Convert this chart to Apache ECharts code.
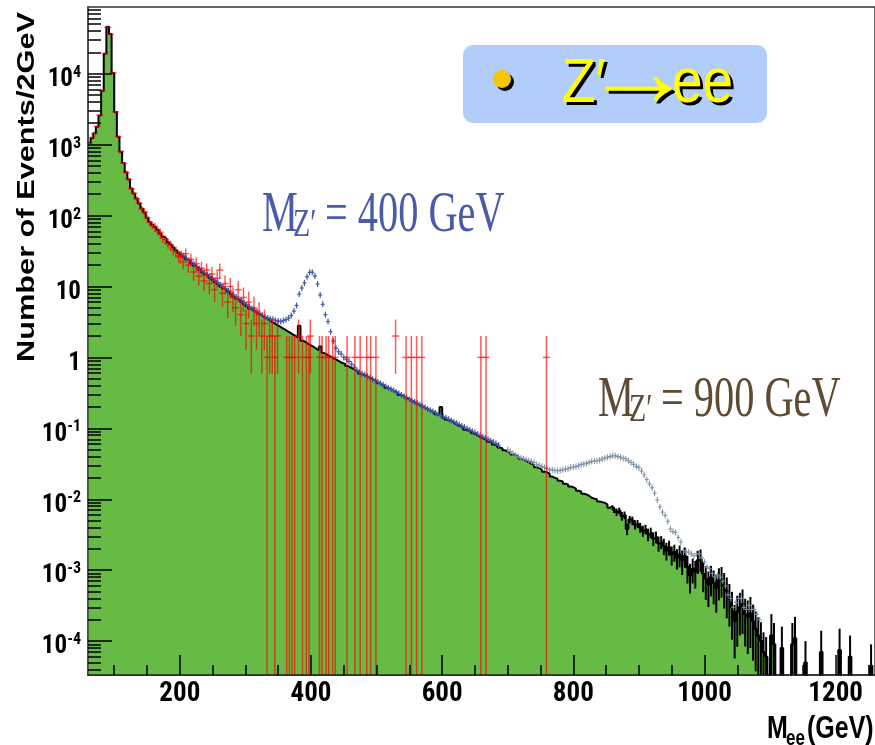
<!DOCTYPE html>
<html><head><meta charset="utf-8">
<script src="https://cdn.jsdelivr.net/npm/echarts@6/dist/echarts.min.js"></script>
<style>html,body{margin:0;padding:0;background:#fff}#c{width:875px;height:745px}</style>
</head><body><div id="c"></div>
<script>
// ---------------- data ----------------
const binStart = 60, binWidth = 4;           // GeV, background histogram bins (values are events / 2 GeV)
const bgValues = [
1050,1230,1450,1780,2570,5750,19000,45700,36300,10200,
2880,1290,794,550,407,324,240,204,174,148,
126,110,93,81,74,69,63,56,50,47,
42,39,35.5,32.4,29.5,27.5,25.7,24.0,22.9,20.9,
19.5,18.6,17.0,15.8,14.8,14.1,13.2,12.3,11.5,10.7,
10.0,9.33,8.91,8.32,7.76,7.24,6.76,6.46,6.03,5.62,
5.25,4.90,4.62,4.42,4.17,3.98,3.76,3.59,3.39,3.20,
3.05,2.88,2.75,2.60,2.48,2.34,2.24,2.11,2.02,1.91,
2.8,1.72,1.64,1.55,1.48,1.41,1.33,1.26,1.42,1.15,
1.10,1.05,1.00,0.955,0.912,0.871,0.832,0.81,0.759,0.724,
0.692,0.661,0.631,0.59,0.575,0.550,0.525,0.501,0.479,0.47,
0.437,0.417,0.398,0.372,0.363,0.347,0.331,0.316,0.296,0.288,
0.275,0.263,0.251,0.240,0.229,0.219,0.209,0.200,0.191,0.182,
0.174,0.170,0.158,0.155,0.200,0.141,0.132,0.129,0.123,0.117,
0.110,0.107,0.102,0.0955,0.0933,0.0912,0.0851,0.0813,0.0776,0.0741,
0.0708,0.0692,0.0646,0.0631,0.0589,0.0575,0.0537,0.0525,0.0490,0.0468,
0.0457,0.0427,0.0417,0.0398,0.0372,0.0363,0.0347,0.0331,0.0316,0.0302,
0.0282,0.0275,0.0263,0.0245,0.0240,0.0229,0.0209,0.0200,0.0195,0.0182,
0.0178,0.0166,0.0162,0.0151,0.0148,0.0141,0.0132,0.0129,0.0120,0.0117,
0.0112,0.0105,0.0102,0.0100,0.00933,0.00912,0.0089,0.0085,0.0076,0.0081,
0.0071,0.0066,0.0069,0.0058,0.0060,0.0038,0.0052,0.0050,0.0044,0.0045,
0.0040,0.0036,0.0038,0.0032,0.0034,0.0028,0.00295,0.0024,0.0025,0.0022,
0.0019,0.0021,0.00166,0.0018,0.0015,0.00166,0.00138,0.00158,0.00112,0.00085,
0.00105,0.00095,0.00138,0.00145,0.00089,0.00076,0.00063,0.00079,0.00066,0.00056,
0.00072,0.00076,0.00060,0.00050,0.00040,0.00030,0.00019,0.00026,0.00030,0.00033,
0.00024,0.00022,0.00025,0.00019,0.00015,0.00012,0.00010,0.00007,0.00006,0,
0.00012,0.00009,0,0,0.00008,0,0,0,0.00009,0.00011,
0,0,0,0.00005,0,0,0,0,0,0.00007,
0,0,0,0,0,0,0.000075,0,0,0,
0.00006,0,0,0,0,0,0,0,0.000045,0
];
const bgTailStartBin = 200;                  // MC statistical errors shown in the tail
const bgTailRelErr = [
0.10,0.12,0.10,0.14,0.12,0.18,0.12,0.14,0.15,0.13,
0.16,0.18,0.15,0.20,0.17,0.22,0.19,0.24,0.21,0.26,
0.28,0.24,0.30,0.27,0.32,0.34,0.38,0.32,0.42,0.45,
0.38,0.42,0.36,0.35,0.45,0.50,0.52,0.46,0.50,0.55,
0.48,0.46,0.52,0.58,0.60,0.65,0.70,0.68,0.60,0.62,
0.65,0.70,0.68,0.72,0.75,0.80,0.85,0.90,0.90,1.00,
1,1,1,1,1,1,1,1,1,1, 1,1,1,1,1,1,1,1,1,1,
1,1,1,1,1,1,1,1,1,1, 1,1,1,1,1,1,1,1,1,1
];
const dataMass = [62,66,70,74,78,82,86,90,94,98,102,106,110,114,118,122,126,130,134,138,142,146,150,154,158,162,166,170,174,178,182,186,190,194,198,
201,205,209,213,217,221,225,229,233,237,241,245,249,253,257,261,265,269,273,277,281,285,289,293,297,301,305,309,313,317,321,325,329,
333,337,341,345,349,363,367,371,375,381,387,393,397,399,413,417,423,427,433,437,455,467,475,485,491,499,529,545,553,561,569,659,667,759];
const dataCount = [1040,1260,1430,1800,2600,5700,19200,45000,36000,10300,2900,1300,800,545,405,322,238,206,172,150,124,112,94,80,72,70,60,58,48,46,40,38,33,31,27,
26,22,29,20,24,16,21,14,18,12,17,11,15,9,13,17,8,11,6,10,7,5,9,4,7,3,6,2,5,3,4,2,3,
1,2,2,1,2,1,1,1,1,2,1,1,1,2,1,1,1,1,1,1,1,1,1,1,1,1,2,1,1,1,1,1,1,1];
const zp400Start = 202, zp400Step = 4;       // M_Z' = 400 GeV sample (signal + background)
const zp400Values = [
29,27,25,23.5,22,20.5,19,17.8,16.6,15.5,
14.6,13.8,13,12.1,11.3,10.6,9.9,9.3,8.7,8.1,
7.6,7.1,6.7,6.3,5.9,5.5,5.2,4.9,4.65,4.4,
4.2,3.9,3.7,3.6,3.5,3.45,3.3,3.25,3.2,3.3,
3.4,3.6,3.9,4.5,5.4,7.8,9.5,11.2,13.7,15.8,
15.9,14.0,10.8,7.6,5.6,4.0,3.2,2.3,1.7,1.35,
1.2,1.12,1.0,0.94,0.88,0.8,0.73,0.66,0.62,0.59,
0.57,0.54,0.52,0.49,0.47,0.45,0.43,0.41,0.39,0.37,
0.355,0.34,0.325,0.31,0.295,0.28,0.27,0.255,0.245,0.235,
0.225,0.215,0.205,0.196,0.187,0.18,0.172,0.165,0.158,0.151,
0.145,0.14,0.134,0.128,0.123,0.118,0.113,0.108,0.104,0.099,
0.095,0.091,0.087,0.083,0.079,0.076,0.073,0.07,0.067,0.064,
0.061,0.058];
const zp900Start = 700, zp900Step = 4;       // M_Z' = 900 GeV sample
const zp900Values = [
0.050,0.047,0.044,0.042,0.040,0.038,0.037,0.036,0.035,0.034,
0.033,0.031,0.030,0.029,0.028,0.027,0.026,0.0258,0.0255,0.0252,
0.0255,0.026,0.0265,0.027,0.028,0.0285,0.029,0.0296,0.031,0.0315,
0.032,0.033,0.034,0.0345,0.035,0.0355,0.037,0.038,0.039,0.040,
0.041,0.041,0.040,0.039,0.038,0.037,0.035,0.033,0.031,0.029,
0.028,0.025,0.022,0.019,0.0165,0.0145,0.0122,0.0098,0.0078,0.0066,
0.0059,0.0049,0.0038,0.0035,0.0034,0.0029,0.0025,0.0019,0.0018,0.0018,
0.0017,0.0016,0.0017,0.0017,0.0015,0.0013,0.0011,0.00105,0.0009,0.0008,
0.00085,0.0008,0.0007,0.0006,0.00045,0.0004,0.0003,0.00035,0.0004,0.0004,
0.0003,0.00028,0.00032,0.00028,0.00028,0.00024,0.0002];
const xMajorTicks = [200,400,600,800,1000,1200];
const xMinorTicks = [100,150,250,300,350,450,500,550,650,700,750,850,900,950,1050,1100,1150,1250];
const yMajorTicks = [1e-4,1e-3,1e-2,1e-1,1,10,100,1e3,1e4];
const xMin = 60, xMax = 1260, yMin = 3.33e-5, yMax = 8.7e4;

// ---------------- fonts ----------------
const SANS = '"Liberation Sans",Arial,sans-serif';
const SERIF = '"Liberation Serif","DejaVu Serif",serif';
const mctx = document.createElement('canvas').getContext('2d');
function measure(font, txt) { mctx.font = font; return mctx.measureText(txt).width; }
function available(fam) {
  const s = 'Mmwil10200GeV';
  return measure('bold 40px monospace', s) !== measure('bold 40px "' + fam + '",monospace', s) ||
         measure('bold 40px serif', s) !== measure('bold 40px "' + fam + '",serif', s);
}
let LABEL_FAMILY = 'Liberation Sans', bestW = Infinity;
['Liberation Sans Narrow', 'Roboto Condensed', 'Noto Sans Condensed', 'DejaVu Sans Condensed', 'Liberation Sans'].forEach(function (f) {
  if (available(f)) { const w = measure('bold 40px "' + f + '"', '200'); if (w < bestW) { bestW = w; LABEL_FAMILY = f; } }
});
const LABEL_FONT = '"' + LABEL_FAMILY + '",' + SANS;
const xLabelSize = Math.min(30, Math.round(40 * 41 / measure('bold 40px ' + LABEL_FONT, '200')));
const yLabelSize = Math.min(28, Math.round(40 * 25.5 / measure('bold 40px ' + LABEL_FONT, '10')));
const ySupSize = Math.round(yLabelSize * 0.65);

// ---------------- build ----------------
const logMin = Math.log10(yMin), logMax = Math.log10(yMax);
const yMajorLog = yMajorTicks.map(function (v) { return Math.log10(v); });
const yMinorLog = [];
for (let e = -5; e <= 4; e++) for (let k = 2; k <= 9; k++) {
  const v = k * Math.pow(10, e);
  if (v > yMin && v < yMax) yMinorLog.push(Math.log10(v));
}
const bgLine = bgValues.map((v, i) => [binStart + i * binWidth, v > 0 ? v : yMin / 100]);
bgLine.push([binStart + bgValues.length * binWidth, bgLine[bgLine.length - 1][1]]);
const bgErrData = [];
bgTailRelErr.forEach((r, k) => {
  const i = bgTailStartBin + k, v = bgValues[i];
  if (v > 0) bgErrData.push([binStart + (i + 0.5) * binWidth, v, v * r]);
});
const zp400Data = zp400Values.map((v, i) => [zp400Start + i * zp400Step, v]);
const zp900Data = zp900Values.map((v, i) => [zp900Start + i * zp900Step, v]);
const obsData = dataMass.map((m, i) => [m, dataCount[i]]);

function crossMarker(color, hw, hh, lw) {
  return function (params, api) {
    const p = api.coord([api.value(0), api.value(1)]);
    return { type: 'group', children: [
      { type: 'line', shape: { x1: p[0] - hw, y1: p[1], x2: p[0] + hw, y2: p[1] }, style: { stroke: color, lineWidth: lw } },
      { type: 'line', shape: { x1: p[0], y1: p[1] - hh, x2: p[0], y2: p[1] + hh }, style: { stroke: color, lineWidth: lw } }
    ] };
  };
}

const L = yLabelSize + 4, Ls = ySupSize + 2;
const digitStyle = { fontFamily: LABEL_FONT, fontWeight: 'bold', fontSize: yLabelSize, lineHeight: L, color: '#000', padding: [12, 0, 0, 0] };
const supStyle = { fontFamily: LABEL_FONT, fontWeight: 'bold', fontSize: ySupSize, lineHeight: Ls, color: '#000', padding: [0, 0, 2, 0] };

const chart = echarts.init(document.getElementById('c'), null, { renderer: 'canvas' });
const option = {
  animation: false,
  backgroundColor: '#ffffff',
  grid: { left: 88, top: 7, width: 790, height: 668, show: true, borderColor: '#333', borderWidth: 1.5 },
  xAxis: [
    { type: 'value', min: xMin, max: xMax, position: 'bottom', z: 10,
      axisLine: { show: true, onZero: false, lineStyle: { color: '#222', width: 1.5 } },
      axisTick: { show: true, inside: true, length: 20, customValues: xMajorTicks, lineStyle: { color: '#000', width: 1.5 } },
      axisLabel: { show: true, customValues: xMajorTicks, margin: 6, color: '#000', fontFamily: LABEL_FONT, fontWeight: 'bold', fontSize: xLabelSize,
        formatter: function (v) { return String(v); } },
      splitLine: { show: false } },
    { type: 'value', min: xMin, max: xMax, position: 'bottom', z: 10,
      axisLine: { show: false, onZero: false },
      axisTick: { show: true, inside: true, length: 10, customValues: xMinorTicks, lineStyle: { color: '#000', width: 1.5 } },
      axisLabel: { show: false }, splitLine: { show: false } }
  ],
  yAxis: [
    { type: 'log', logBase: 10, min: yMin, max: yMax, position: 'left', z: 10,
      axisLine: { show: true, onZero: false, lineStyle: { color: '#444', width: 1.5 } },
      axisTick: { show: false },
      axisLabel: { show: true, customValues: yMajorTicks, margin: 7,
        formatter: function (v) {
          const e = Math.round(Math.log10(v));
          if (e === 0) return '{b|1}';
          if (e === 1) return '{b|10}';
          return '{b|10}{s|' + e + '}';
        },
        rich: { b: digitStyle, s: supStyle } },
      splitLine: { show: false } },
    { type: 'value', min: logMin, max: logMax, position: 'left', z: 10,
      axisLine: { show: false, onZero: false },
      axisTick: { show: true, inside: true, length: 24, customValues: yMajorLog, lineStyle: { color: '#000', width: 1.5 } },
      axisLabel: { show: false }, splitLine: { show: false } },
    { type: 'value', min: logMin, max: logMax, position: 'left', z: 10,
      axisLine: { show: false, onZero: false },
      axisTick: { show: true, inside: true, length: 13, customValues: yMinorLog, lineStyle: { color: '#000', width: 1.5 } },
      axisLabel: { show: false }, splitLine: { show: false } }
  ],
  series: [
    { type: 'line', name: 'Drell-Yan', xAxisIndex: 0, yAxisIndex: 0, data: bgLine, step: 'end',
      symbol: 'none', showSymbol: false, clip: true, silent: true, z: 2,
      lineStyle: { color: '#000', width: 2 },
      areaStyle: { color: '#67bb45', opacity: 1, origin: 'start' } },
    { type: 'custom', name: 'MC error', xAxisIndex: 0, yAxisIndex: 0, data: bgErrData, clip: true, silent: true, z: 3,
      renderItem: function (params, api) {
        const m = api.value(0), v = api.value(1), e = api.value(2);
        const lo = v - e > yMin ? v - e : yMin;
        const pHi = api.coord([m, v + e]), pLo = api.coord([m, lo]);
        return { type: 'line', shape: { x1: pHi[0], y1: pHi[1], x2: pLo[0], y2: pLo[1] }, style: { stroke: '#000', lineWidth: 2 } };
      } },
    { type: 'custom', name: "Z' 400", xAxisIndex: 0, yAxisIndex: 0, data: zp400Data, clip: true, silent: true, z: 4,
      renderItem: crossMarker('#3f56a6', 2, 3, 1.2) },
    { type: 'custom', name: "Z' 900", xAxisIndex: 0, yAxisIndex: 0, data: zp900Data, clip: true, silent: true, z: 4,
      renderItem: crossMarker('#7f91a6', 2, 3, 1.1) },
    { type: 'custom', name: 'data', xAxisIndex: 0, yAxisIndex: 0, data: obsData, clip: true, silent: true, z: 5,
      renderItem: function (params, api) {
        const m = api.value(0), n = api.value(1), s = Math.sqrt(n);
        const lo = n - s > yMin ? n - s : yMin;
        const pC = api.coord([m, n]), pHi = api.coord([m, n + s]), pLo = api.coord([m, lo]);
        const st = { stroke: 'rgba(255,0,0,0.65)', lineWidth: 1.5 };
        return { type: 'group', children: [
          { type: 'line', shape: { x1: pC[0], y1: pHi[1], x2: pC[0], y2: pLo[1] }, style: st },
          { type: 'line', shape: { x1: pC[0] - 3.5, y1: pC[1], x2: pC[0] + 3.5, y2: pC[1] }, style: st }
        ] };
      } }
  ],
  graphic: [
    { type: 'text', x: 27, y: 187, rotation: Math.PI / 2, scaleX: 1.28, z: 10,
      style: { text: 'Number of Events/2GeV', font: 'bold 24px ' + SANS, fill: '#000', textAlign: 'center', textVerticalAlign: 'middle' } },
    // x-axis title  M_ee (GeV)
    { type: 'text', x: 767, y: 729, scaleY: 1.28, z: 10, style: { text: 'M', font: 'bold 25px ' + SANS, fill: '#000', textAlign: 'left', textVerticalAlign: 'middle' } },
    { type: 'text', x: 786, y: 739, scaleY: 1.28, z: 10, style: { text: 'ee', font: 'bold 17px ' + SANS, fill: '#000', textAlign: 'left', textVerticalAlign: 'middle' } },
    { type: 'text', x: 807, y: 729, scaleY: 1.28, z: 10, style: { text: '(GeV)', font: 'bold 25px ' + SANS, fill: '#000', textAlign: 'left', textVerticalAlign: 'middle' } },
    // M_Z' = 400 GeV
    { type: 'text', x: 262, y: 216, scaleX: 0.72, z: 10, style: { text: 'M', font: '56px ' + SERIF, fill: '#4a5ca8', textAlign: 'left', textVerticalAlign: 'middle' } },
    { type: 'text', x: 293, y: 226, scaleX: 0.72, z: 10, style: { text: 'Z\u2032', font: '39px ' + SERIF, fill: '#4a5ca8', textAlign: 'left', textVerticalAlign: 'middle' } },
    { type: 'text', x: 325, y: 216, scaleX: 0.72, z: 10, style: { text: '= 400 GeV', font: '56px ' + SERIF, fill: '#4a5ca8', textAlign: 'left', textVerticalAlign: 'middle' } },
    // M_Z' = 900 GeV
    { type: 'text', x: 598, y: 401, scaleX: 0.72, z: 10, style: { text: 'M', font: '56px ' + SERIF, fill: '#5f4a33', textAlign: 'left', textVerticalAlign: 'middle' } },
    { type: 'text', x: 629, y: 411, scaleX: 0.72, z: 10, style: { text: 'Z\u2032', font: '39px ' + SERIF, fill: '#5f4a33', textAlign: 'left', textVerticalAlign: 'middle' } },
    { type: 'text', x: 661, y: 401, scaleX: 0.72, z: 10, style: { text: '= 900 GeV', font: '56px ' + SERIF, fill: '#5f4a33', textAlign: 'left', textVerticalAlign: 'middle' } },
    // title box  Z' -> ee
    { type: 'rect', z: 10, shape: { x: 463, y: 45, width: 304, height: 78, r: 10 }, style: { fill: '#b3cdfa' } },
    { type: 'circle', z: 11, shape: { cx: 505, cy: 82, r: 9 }, style: { fill: '#000' } },
    { type: 'circle', z: 12, shape: { cx: 502, cy: 79, r: 9 }, style: { fill: '#f7c600' } },
    { type: 'text', x: 565, y: 87.5, scaleY: 1.15, z: 11, style: { text: 'Z\u2032', font: '55px ' + SANS, fill: '#000', textAlign: 'left', textVerticalAlign: 'middle' } },
    { type: 'text', x: 562, y: 84.5, scaleY: 1.15, z: 12, style: { text: 'Z\u2032', font: '55px ' + SANS, fill: '#ffff00', textAlign: 'left', textVerticalAlign: 'middle' } },
    { type: 'text', x: 586, y: 81, scaleX: 1.8, scaleY: 1.6, z: 11, style: { text: '\u2192', font: '62px ' + SANS, fill: '#000', textAlign: 'left', textVerticalAlign: 'middle' } },
    { type: 'text', x: 583, y: 78, scaleX: 1.8, scaleY: 1.6, z: 12, style: { text: '\u2192', font: '62px ' + SANS, fill: '#ffff00', textAlign: 'left', textVerticalAlign: 'middle' } },
    { type: 'text', x: 675, y: 87.5, scaleY: 1.15, z: 11, style: { text: 'ee', font: '55px ' + SANS, fill: '#000', textAlign: 'left', textVerticalAlign: 'middle' } },
    { type: 'text', x: 672, y: 84.5, scaleY: 1.15, z: 12, style: { text: 'ee', font: '55px ' + SANS, fill: '#ffff00', textAlign: 'left', textVerticalAlign: 'middle' } }
  ]
};
chart.setOption(option);
</script>
</body></html>
